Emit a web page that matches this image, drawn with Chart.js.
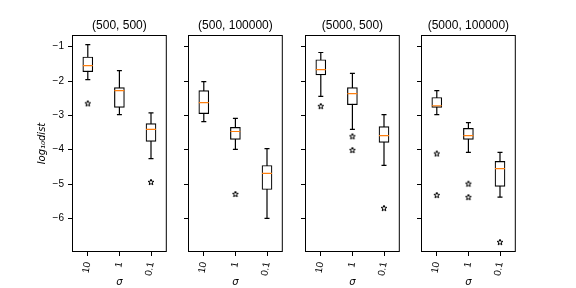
<!DOCTYPE html>
<html>
<head>
<meta charset="utf-8">
<script src="https://cdn.jsdelivr.net/npm/chart.js@4"></script>
<style>
  body { margin: 0; background: #fff; width: 576px; height: 288px; position: relative; overflow: hidden; }
  canvas { position: absolute; top: 0; }
</style>
</head>
<body>
<canvas id="p0"></canvas>
<canvas id="p1"></canvas>
<canvas id="p2"></canvas>
<canvas id="p3"></canvas>
<script>
const panelTitles = ['(500, 500)', '(500, 100000)', '(5000, 500)', '(5000, 100000)'];
const sigmaLabels = ['10', '1', '0.1'];
const yTicks = [-6, -5, -4, -3, -2, -1];

// box stats per panel, one value per sigma
const whiskerLow  = [[-1.96, -2.98, -4.26], [-3.18, -3.99, -6.00], [-2.45, -3.41, -4.46], [-2.98, -4.08, -5.38]];
const q1          = [[-1.73, -2.77, -3.76], [-2.95, -3.70, -5.16], [-1.82, -2.69, -3.79], [-2.77, -3.70, -5.07]];
const medians     = [[-1.55, -2.28, -3.41], [-2.63, -3.47, -4.69], [-1.67, -2.37, -3.59], [-2.72, -3.59, -4.55]];
const q3          = [[-1.30, -2.19, -3.24], [-2.28, -3.35, -4.46], [-1.38, -2.19, -3.33], [-2.48, -3.38, -4.34]];
const whiskerHigh = [[-0.94, -1.70, -2.93], [-2.02, -3.09, -3.97], [-1.17, -1.78, -2.98], [-2.28, -3.21, -4.08]];
const outliers = [
  [[-2.65], [], [-4.94]],
  [[], [-5.29], []],
  [[-2.73], [-3.61, -4.01], [-5.70]],
  [[-4.11, -5.32], [-4.99, -5.38], [-6.69]]
];

const plotLefts = [72, 188, 305, 421];
const plotWidth = 97;
const sans = "'Liberation Sans', Arial, sans-serif";

function makeStar() {
  const c = document.createElement('canvas');
  c.width = 8; c.height = 8;
  const g = c.getContext('2d');
  g.beginPath();
  for (let k = 0; k < 10; k++) {
    const r = k % 2 ? 1.3 : 3.1;
    const a = -Math.PI / 2 + k * Math.PI / 5;
    g.lineTo(4 + r * Math.cos(a), 4.3 + r * Math.sin(a));
  }
  g.closePath();
  g.fillStyle = '#fff'; g.fill();
  g.strokeStyle = '#000'; g.lineWidth = 1; g.stroke();
  return c;
}
const star = makeStar();

// axes frame + panel title centred over the plot area
const frame = {
  id: 'frame',
  afterDraw(chart) {
    const a = chart.chartArea, ctx = chart.ctx;
    ctx.save();
    ctx.strokeStyle = '#000';
    ctx.lineWidth = 1;
    ctx.strokeRect(a.left + 0.5, a.top + 0.5, a.right - a.left - 1, a.bottom - a.top - 1);
    ctx.fillStyle = '#000';
    ctx.font = '12px ' + sans;
    ctx.textAlign = 'center';
    ctx.textBaseline = 'alphabetic';
    ctx.fillText(chart.options.panelTitle, (a.left + a.right) / 2, 29);
    ctx.restore();
  }
};

panelTitles.forEach((title, i) => {
  const yW = i === 0 ? 72 : 20;
  const cv = document.getElementById('p' + i);
  cv.width = yW + plotWidth + 4;
  cv.height = 288;
  cv.style.left = (plotLefts[i] - yW) + 'px';

  const whisk = [], caps = [], meds = [], outs = [];
  sigmaLabels.forEach((s, j) => {
    whisk.push({x: s, y: whiskerLow[i][j]}, {x: s, y: whiskerHigh[i][j]}, {x: s, y: null});
    caps.push({x: s, y: whiskerLow[i][j]}, {x: s, y: whiskerHigh[i][j]});
    meds.push({x: s, y: medians[i][j]});
    outliers[i][j].forEach(v => outs.push({x: s, y: v}));
  });

  new Chart(cv.getContext('2d'), {
    type: 'bar',
    data: {
      labels: sigmaLabels,
      datasets: [
        { type: 'line', data: whisk, borderColor: '#000', borderWidth: 1.2, pointRadius: 0, spanGaps: false, order: 3 },
        { type: 'bar', data: sigmaLabels.map((s, j) => [q1[i][j], q3[i][j]]), backgroundColor: '#fff',
          borderColor: '#000', borderWidth: 1.2, borderSkipped: false, barThickness: 10, order: 2 },
        { type: 'line', data: caps, showLine: false, pointStyle: 'line', pointRadius: 2.5,
          pointBorderColor: '#000', pointBorderWidth: 1.2, order: 1 },
        { type: 'line', data: meds, showLine: false, pointStyle: 'line', pointRadius: 5,
          pointBorderColor: '#ff7f0e', pointBorderWidth: 1.2, order: 1 },
        { type: 'line', data: outs, showLine: false, pointStyle: star, pointRadius: 4, order: 0 }
      ]
    },
    options: {
      panelTitle: title,
      responsive: false,
      animation: false,
      events: [],
      layout: { padding: { left: 0, right: 4, top: 35, bottom: 0 } },
      plugins: {
        legend: { display: false },
        tooltip: { enabled: false },
        title: { display: false }
      },
      scales: {
        x: {
          type: 'category',
          offset: true,
          grid: { offset: false, drawOnChartArea: false, tickLength: 4, color: '#000' },
          border: { display: false },
          ticks: { minRotation: 80, maxRotation: 80, autoSkip: false, padding: 5, color: '#000',
                   font: { family: sans, size: 10 } },
          title: { display: true, text: 'σ', color: '#000', padding: { top: 0, bottom: 0 },
                   font: { family: "'DejaVu Sans', sans-serif", size: 10, style: 'italic' } },
          afterFit(s) { s.height = 36; }
        },
        y: {
          type: 'linear',
          min: -6.98,
          max: -0.66,
          afterBuildTicks(s) { s.ticks = yTicks.map(v => ({value: v})); },
          grid: { drawOnChartArea: false, tickLength: 4, color: '#000' },
          border: { display: false },
          ticks: { display: i === 0, padding: 4, color: '#000', font: { family: sans, size: 10 },
                   callback: v => String(v).replace('-', '\u2212') },
          title: { display: i === 0, text: 'log\u2081\u2080dist', color: '#000', padding: { top: 36, bottom: 0 },
                   font: { family: "'DejaVu Sans', sans-serif", size: 10, style: 'italic' } },
          afterFit(s) { s.width = yW; }
        }
      }
    },
    plugins: [frame]
  });
});
</script>
</body>
</html>
